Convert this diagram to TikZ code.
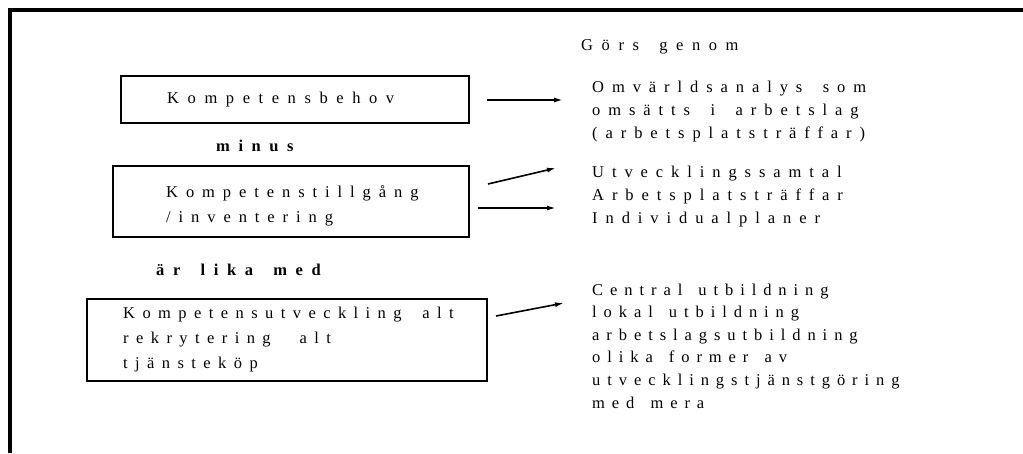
\documentclass[tikz,border=0pt]{standalone}
\usepackage{fontspec}
\setmainfont{Liberation Serif}
\newfontfamily\lspA[LetterSpace=52,WordSpace=1.6]{Liberation Serif}
\newfontfamily\lspB[LetterSpace=48,WordSpace=1.7]{Liberation Serif}
\newfontfamily\lspC[LetterSpace=45,WordSpace=1.8]{Liberation Serif}
\newfontfamily\lspD[LetterSpace=42,WordSpace=1.45]{Liberation Serif}
\usetikzlibrary{arrows.meta}
\begin{document}
\begin{tikzpicture}[x=1pt,y=-1pt,
  box/.style={draw,line width=1.6pt,inner sep=0pt,anchor=north west},
  txt/.style={inner sep=0pt,anchor=base west,align=left},
  fA/.style={txt,font=\lspA\fontsize{16.5}{22.6}\selectfont},
  fB/.style={txt,font=\lspB\fontsize{16.5}{22.6}\selectfont},
  fBb/.style={txt,font=\lspB\fontsize{16.5}{25}\selectfont},
  fC/.style={txt,font=\lspC\fontsize{16.5}{25}\selectfont},
  fD/.style={txt,font=\lspD\fontsize{16.5}{22.6}\selectfont},
  btxt/.style={txt,font=\lspA\bfseries\fontsize{16.5}{22.6}\selectfont},
  arr/.style={line width=1.6pt,-{Latex[length=9pt,width=5pt]}}]
\useasboundingbox (0,0) rectangle (1023,453);
% frame
\draw[line width=3.5pt] (10,453) -- (10,10) -- (1023,10);
% boxes
\node[box,minimum width=348pt,minimum height=47pt] (b1) at (120,75) {};
\node[box,minimum width=356pt,minimum height=71pt] (b2) at (112,165) {};
\node[box,minimum width=400pt,minimum height=82pt] (b3) at (86,298) {};
% box texts (anchor = baseline of last line)
\node[fA] (t1) at (167,103) {Kompetensbehov};
\node[fBb] (t2) at (166,222) {Kompetenstillgång\\/inventering};
\node[fC] (t3) at (123,368) {Kompetensutveckling alt\\rekrytering\hspace{8pt} alt\\tjänsteköp};
% operators
\node[btxt] (minus) at (216,151) {minus};
\node[btxt] (lika) at (156,275) {är lika med};
% right column
\node[fA] (gors) at (581,50) {Görs genom};
\node[fB] (r1) at (592,138) {Omvärldsanalys som\\omsätts i arbetslag\\(arbetsplatsträffar)};
\node[fB] (r2) at (592,223) {Utvecklingssamtal\\Arbetsplatsträffar\\Individualplaner};
\node[fD] (r3) at (592,408) {Central utbildning\\lokal utbildning\\arbetslagsutbildning\\olika former av\\utvecklingstjänstgöring\\med mera};
% arrows
\coordinate (a1s) at (487,100); \coordinate (a1e) at (563,100);
\coordinate (a2s) at (488,184); \coordinate (a2e) at (556,168);
\coordinate (a3s) at (478,208); \coordinate (a3e) at (556,208);
\coordinate (a4s) at (496,316); \coordinate (a4e) at (564,303);
\draw[arr] (a1s) -- (a1e);
\draw[arr] (a2s) -- (a2e);
\draw[arr] (a3s) -- (a3e);
\draw[arr] (a4s) -- (a4e);
\end{tikzpicture}
\end{document}
